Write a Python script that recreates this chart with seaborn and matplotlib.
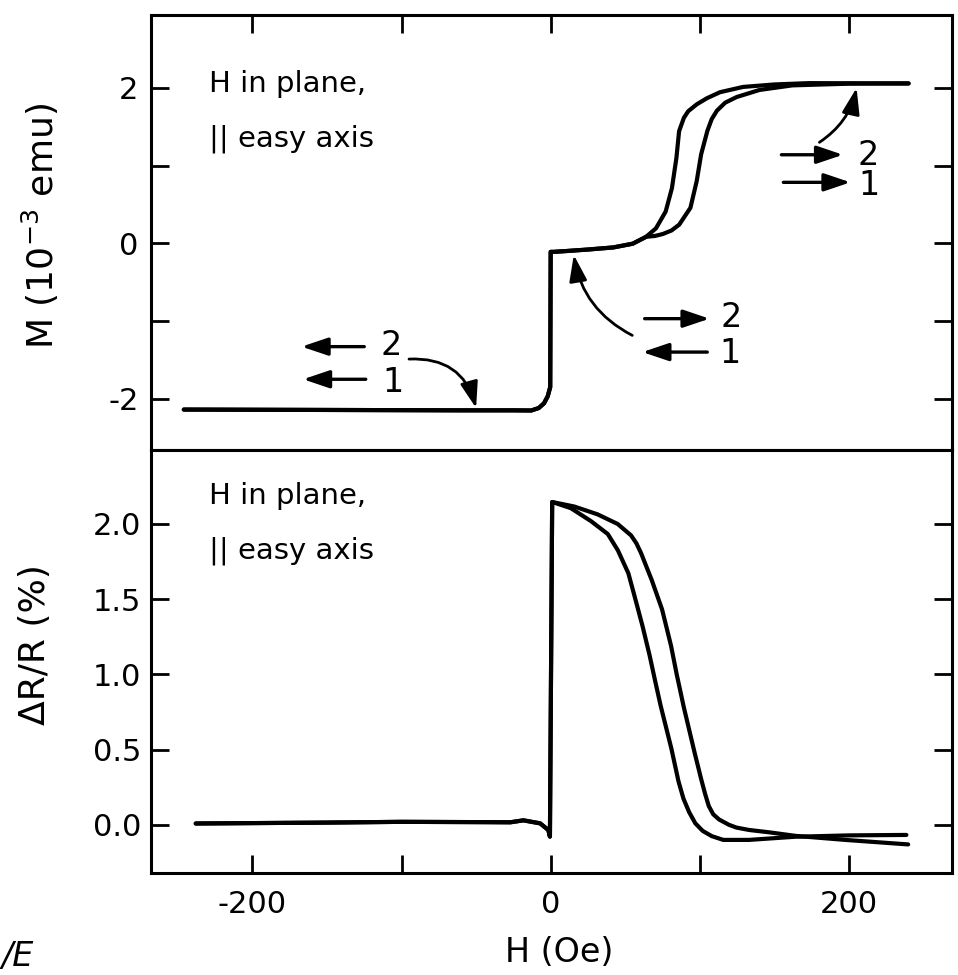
import matplotlib
matplotlib.use("Agg")
import matplotlib.pyplot as plt
import pandas as pd
import seaborn as sns

# ---------------- magnetization, M (10^-3 emu) vs H (Oe) ----------------
# common part: negative saturation, jump at H = 0, low-moment plateau
m_common_h = [-246, -150, -60, -25, -13, -8, -4.5, -2, -0.3, 0.0, 2, 10, 25, 42, 55, 64]
m_common_m = [-2.14, -2.145, -2.15, -2.15, -2.152, -2.12, -2.06, -1.97, -1.85,
              -0.11, -0.11, -0.10, -0.08, -0.053, -0.005, 0.084]
# sweep 1 switches at the lower field, sweep 2 at the higher field
m_sweep1_h = [70.6, 77.1, 81.3, 84.3, 86.1, 89.3, 92.2, 98, 104.7, 113.5, 129, 150, 173, 240]
m_sweep1_m = [0.193, 0.409, 0.71, 1.098, 1.443, 1.615, 1.70, 1.79, 1.867, 1.945, 2.013,
              2.045, 2.062, 2.058]
m_sweep2_h = [70, 75.2, 81, 86.2, 93.7, 97.9, 100.9, 105.1, 108, 111.5, 117, 124.7, 140,
              162, 200, 240]
m_sweep2_m = [0.095, 0.12, 0.165, 0.241, 0.457, 0.80, 1.147, 1.45, 1.60, 1.708, 1.81, 1.883,
              1.974, 2.033, 2.055, 2.058]

# ---------------- magnetoresistance, dR/R (%) vs H (Oe) ----------------
r_common_h = [-238, -150, -100, -45, -27, -18.3, -7.1, -1.6, -0.5]
r_common_r = [0.009, 0.015, 0.02, 0.018, 0.017, 0.03, 0.01, -0.034, -0.078]
r_outer_h = [1.0, 15.8, 31.4, 44.9, 53.9, 57.5, 60.7, 64, 67.7, 74.7, 80.7, 84.5, 89.3,
             96.5, 101, 103.6, 106, 109, 113, 119.6, 124.5, 133, 146.8, 164, 197.4, 239.7]
r_outer_r = [2.145, 2.115, 2.063, 1.999, 1.923, 1.87, 1.803, 1.72, 1.628, 1.431, 1.19, 1.0,
             0.78, 0.48, 0.30, 0.204, 0.125, 0.07, 0.035, 0.0, -0.018, -0.034, -0.05,
             -0.073, -0.100, -0.130]
r_inner_h = [1.0, 13.5, 27, 38.3, 45.1, 52.1, 56.9, 61.6, 66.4, 70, 73.7, 80.9, 85.7,
             89, 92.8, 97, 101.9, 108, 115.7, 133, 164, 200, 238.5]
r_inner_r = [2.145, 2.104, 2.018, 1.932, 1.823, 1.671, 1.495, 1.320, 1.123, 0.958, 0.793,
             0.508, 0.289, 0.175, 0.085, 0.01, -0.04, -0.075, -0.10, -0.10, -0.079, -0.07,
             -0.067]

h_ticks = [-200, -100, 0, 100, 200]
h_ticklabels = ["-200", "", "0", "", "200"]
m_ticks = [-2, -1, 0, 1, 2]
m_ticklabels = ["-2", "", "0", "", "2"]
r_ticks = [0.0, 0.5, 1.0, 1.5, 2.0]
r_ticklabels = ["0.0", "0.5", "1.0", "1.5", "2.0"]

# ---------------- tables for seaborn ----------------
m_df = pd.concat([
    pd.DataFrame({"H": m_common_h + m_sweep1_h, "M": m_common_m + m_sweep1_m, "sweep": 1}),
    pd.DataFrame({"H": m_common_h + m_sweep2_h, "M": m_common_m + m_sweep2_m, "sweep": 2}),
], ignore_index=True)
r_df = pd.concat([
    pd.DataFrame({"H": r_common_h + r_outer_h, "R": r_common_r + r_outer_r, "sweep": 1}),
    pd.DataFrame({"H": r_common_h + r_inner_h, "R": r_common_r + r_inner_r, "sweep": 2}),
], ignore_index=True)

sns.set_style("ticks")
plt.rcParams["font.family"] = ["DejaVu Sans"]
plt.rcParams["mathtext.fontset"] = "dejavusans"
plt.rcParams["axes.linewidth"] = 2.2
plt.rcParams["text.color"] = "black"
plt.rcParams["axes.labelcolor"] = "black"
plt.rcParams["xtick.color"] = "black"
plt.rcParams["ytick.color"] = "black"

fig = plt.figure(figsize=(9.58, 9.75), dpi=100)
ax_m = fig.add_axes([0.1576, 0.5385, 0.836, 0.4462])
ax_r = fig.add_axes([0.1576, 0.1046, 0.836, 0.4338], sharex=ax_m)

LW = 3.0
sns.lineplot(data=m_df, x="H", y="M", units="sweep", estimator=None, sort=False,
             color="black", lw=LW, ax=ax_m, legend=False)
sns.lineplot(data=r_df, x="H", y="R", units="sweep", estimator=None, sort=False,
             color="black", lw=LW, ax=ax_r, legend=False)
for ax in (ax_m, ax_r):
    for ln in ax.lines:
        ln.set_solid_joinstyle("round")
        ln.set_solid_capstyle("round")

ax_m.set_xlim(-268, 269)
ax_m.set_ylim(-2.66, 2.94)
ax_r.set_ylim(-0.32, 2.49)

TICK = dict(direction="in", length=13, width=2.0, colors="black", labelsize=22)
ax_m.tick_params(axis="both", which="major", top=True, bottom=False, right=True,
                 labelbottom=False, labeltop=False, labelright=False, pad=9, **TICK)
ax_r.tick_params(axis="both", which="major", top=False, bottom=True, right=True,
                 labelright=False, **TICK)
ax_r.tick_params(axis="x", pad=12)
ax_r.tick_params(axis="y", pad=7)

ax_m.set_xticks(h_ticks)
ax_r.set_xticks(h_ticks)
ax_r.set_xticklabels(h_ticklabels)
ax_m.set_yticks(m_ticks)
ax_m.set_yticklabels(m_ticklabels)
ax_r.set_yticks(r_ticks)
ax_r.set_yticklabels(r_ticklabels)

ax_m.set_xlabel("")
ax_m.set_ylabel("M (10$^{-3}$ emu)", fontsize=26, va="center")
ax_m.yaxis.set_label_coords(-0.138, 0.515)
ax_r.set_ylabel("ΔR/R (%)", fontsize=26, va="center")
ax_r.yaxis.set_label_coords(-0.145, 0.54)
ax_r.set_xlabel("H (Oe)", fontsize=24, va="center")
ax_r.xaxis.set_label_coords(0.51, -0.187)

for ax in (ax_m, ax_r):
    for s in ax.spines.values():
        s.set_linewidth(2.2)
        s.set_color("black")

# panel captions
for ax, y1, y2 in ((ax_m, 0.841, 0.715), (ax_r, 0.891, 0.761)):
    ax.text(0.072, y1, "H in plane,", transform=ax.transAxes, fontsize=21, va="center", ha="left")
    ax.text(0.072, y2, "|| easy axis", transform=ax.transAxes, fontsize=21, va="center", ha="left")

# sweep-direction arrows and their labels
HEAD = "-|>,head_length=0.8,head_width=0.27"


def straight_arrow(ax, tail, head, y):
    ax.annotate("", xy=(head, y), xytext=(tail, y),
                arrowprops=dict(arrowstyle=HEAD, color="black", lw=2.4,
                                mutation_scale=20, shrinkA=0, shrinkB=0))


def curved_arrow(ax, start, tip, rad):
    ax.annotate("", xy=tip, xytext=start,
                arrowprops=dict(arrowstyle=HEAD, color="black", lw=2.0, mutation_scale=20,
                                shrinkA=0, shrinkB=0,
                                connectionstyle=f"arc3,rad={rad}"))


def sweep_label(ax, x, y, s):
    ax.text(x, y, s, fontsize=24, ha="center", va="center")


# negative saturation
straight_arrow(ax_m, -125, -167, -1.33)
sweep_label(ax_m, -107, -1.31, "2")
straight_arrow(ax_m, -124, -166, -1.75)
sweep_label(ax_m, -106, -1.79, "1")
curved_arrow(ax_m, (-95, -1.49), (-50, -2.12), -0.4)

# plateau
straight_arrow(ax_m, 63, 106.5, -0.97)
sweep_label(ax_m, 121, -0.95, "2")
straight_arrow(ax_m, 105, 61.5, -1.40)
sweep_label(ax_m, 120, -1.42, "1")
curved_arrow(ax_m, (54.7, -1.185), (15.5, -0.15), -0.25)

# positive saturation
straight_arrow(ax_m, 154.7, 196, 1.14)
sweep_label(ax_m, 213, 1.135, "2")
straight_arrow(ax_m, 156, 201, 0.785)
sweep_label(ax_m, 213.5, 0.74, "1")
curved_arrow(ax_m, (180.2, 1.30), (205.1, 2.0), 0.2)

# handwritten mark at the lower left corner
fig.text(0.002, 0.002, "/E", fontsize=24, fontstyle="italic", ha="left", va="bottom")

fig.savefig("out.png", dpi=100)
